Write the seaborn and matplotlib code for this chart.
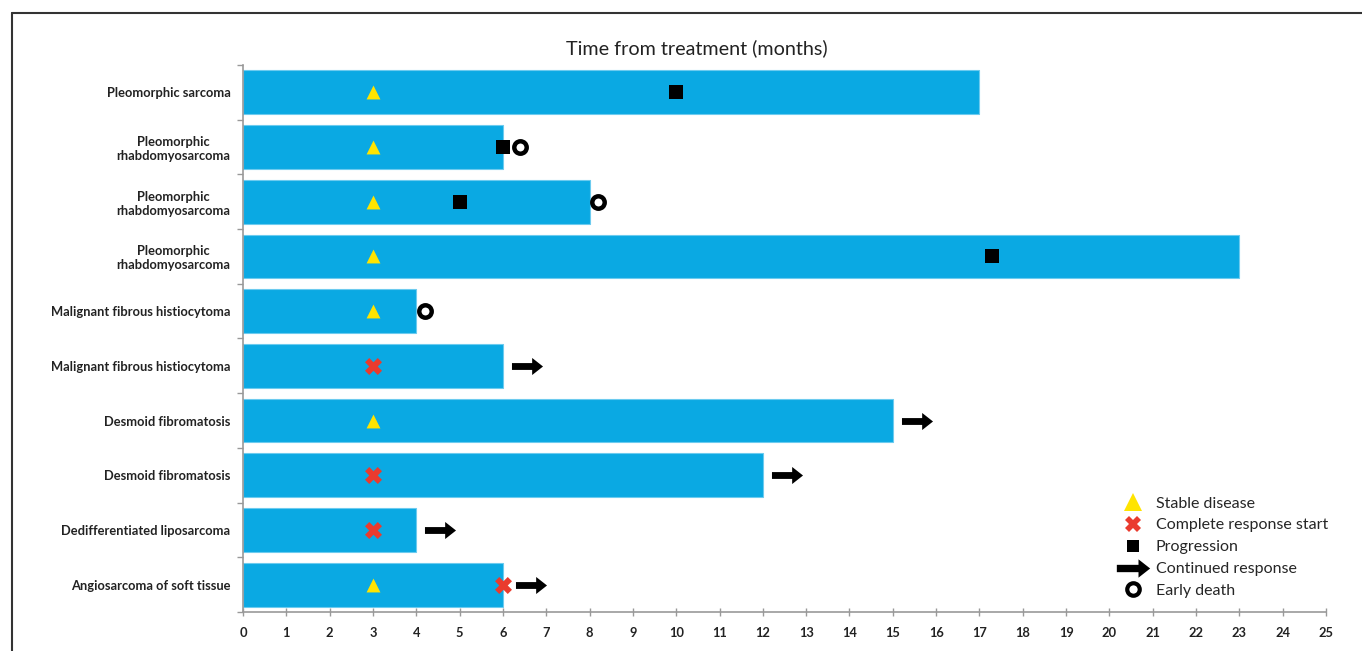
import numpy as np
import pandas as pd
import matplotlib.pyplot as plt
from matplotlib.lines import Line2D
from matplotlib.path import Path
import seaborn as sns

# data, top row first
labels = ['Pleomorphic sarcoma',
          'Pleomorphic\nrhabdomyosarcoma',
          'Pleomorphic\nrhabdomyosarcoma',
          'Pleomorphic\nrhabdomyosarcoma',
          'Malignant fibrous histiocytoma',
          'Malignant fibrous histiocytoma',
          'Desmoid fibromatosis',
          'Desmoid fibromatosis',
          'Dedifferentiated liposarcoma',
          'Angiosarcoma of soft tissue']
months = [17, 6, 8, 23, 4, 6, 15, 12, 4, 6]

stable_rows = [0, 1, 2, 3, 4, 6, 9]
stable_x = [3, 3, 3, 3, 3, 3, 3]
cr_rows = [5, 7, 8, 9]
cr_x = [3, 3, 3, 6]
prog_rows = [0, 1, 2, 3]
prog_x = [10, 6, 5, 17.3]
death_rows = [1, 2, 4]
death_x = [6.4, 8.2, 4.2]
arrow_rows = [5, 6, 7, 8, 9]
arrow_x = [6.55, 15.55, 12.55, 4.55, 6.65]   # arrow centres

sns.set_theme(style='white')
plt.rcParams['font.family'] = ['Lato', 'DejaVu Sans']

df = pd.DataFrame({'row': range(len(months)), 'months': months})

fig = plt.figure(figsize=(13.62, 6.51), dpi=100)
ax = fig.add_axes([243 / 1362, 39 / 651, 1083 / 1362, 547 / 651])

sns.barplot(data=df, x='months', y='row', orient='h', color='#0aa9e3',
            saturation=1, width=0.8, edgecolor='#6ccbef', linewidth=0.8, ax=ax)

# arrow marker
arrow = Path([(-1, -0.22), (0.3, -0.22), (0.3, -0.55), (1, 0), (0.3, 0.55),
              (0.3, 0.22), (-1, 0.22), (-1, -0.22)])

sns.scatterplot(x=stable_x, y=stable_rows, marker='^', s=100, color='#ffe400',
                linewidth=0, ax=ax, zorder=3)
sns.scatterplot(x=cr_x, y=cr_rows, marker='X', s=150, color='#ea3b2e',
                linewidth=0, ax=ax, zorder=3)
sns.scatterplot(x=prog_x, y=prog_rows, marker='s', s=90, color='black',
                linewidth=0, ax=ax, zorder=3)
sns.scatterplot(x=death_x, y=death_rows, marker='o', s=80, color='white',
                edgecolor='black', linewidth=3.2, ax=ax, zorder=3)
sns.scatterplot(x=arrow_x, y=arrow_rows, marker=arrow, s=500, color='black',
                linewidth=0, ax=ax, zorder=3)

ax.set_xlim(0, 25)
ax.set_ylim(9.5, -0.5)
ax.set_xticks(range(0, 26))
ax.set_yticks(range(len(labels)))
ax.set_yticklabels(labels, fontsize=9.3, fontweight='bold', color='#222222',
                   ha='right', multialignment='center')
ax.set_yticks(np.arange(-0.5, 10, 1), minor=True)
ax.set_xlabel('')
ax.set_ylabel('')
ax.tick_params(axis='y', which='major', length=0, pad=9)
ax.tick_params(axis='y', which='minor', length=4, direction='out',
               color='#999999', width=1, left=True)
ax.tick_params(axis='x', length=6, direction='inout', color='#999999',
               width=1, pad=8, bottom=True)
for t in ax.get_xticklabels():
    t.set_fontweight('bold')
    t.set_fontsize(9.3)
    t.set_color('#222222')

sns.despine(ax=ax)
for side in ['left', 'bottom']:
    ax.spines[side].set_color('#999999')
    ax.spines[side].set_linewidth(1.2)

fig.text(697 / 1362, 1 - 48 / 651, 'Time from treatment (months)',
         ha='center', va='center', fontsize=14.2, color='#222222')

handles = [
    Line2D([], [], marker='^', color='none', markerfacecolor='#ffe400',
           markeredgewidth=0, markersize=13, label='Stable disease'),
    Line2D([], [], marker='X', color='none', markerfacecolor='#ea3b2e',
           markeredgewidth=0, markersize=12, label='Complete response start'),
    Line2D([], [], marker='s', color='none', markerfacecolor='black',
           markeredgewidth=0, markersize=9, label='Progression'),
    Line2D([], [], marker=arrow, color='none', markerfacecolor='black',
           markeredgewidth=0, markersize=24, label='Continued response'),
    Line2D([], [], marker='o', color='none', markerfacecolor='white',
           markeredgecolor='black', markeredgewidth=3, markersize=9,
           label='Early death'),
]
fig.legend(handles=handles, loc='upper left',
           bbox_to_anchor=(1114 / 1362, 1 - 490 / 651), frameon=False,
           fontsize=11.5, handlelength=1.6, handletextpad=0.6,
           labelspacing=0.48, borderaxespad=0)

# outer frame (left and top edges visible)
fig.add_artist(Line2D([12 / 1362, 12 / 1362], [0, 1 - 13 / 651],
                      transform=fig.transFigure, color='#333333', lw=1.5))
fig.add_artist(Line2D([12 / 1362, 1], [1 - 13 / 651, 1 - 13 / 651],
                      transform=fig.transFigure, color='#333333', lw=1.5))

fig.savefig('out.png', dpi=100)
